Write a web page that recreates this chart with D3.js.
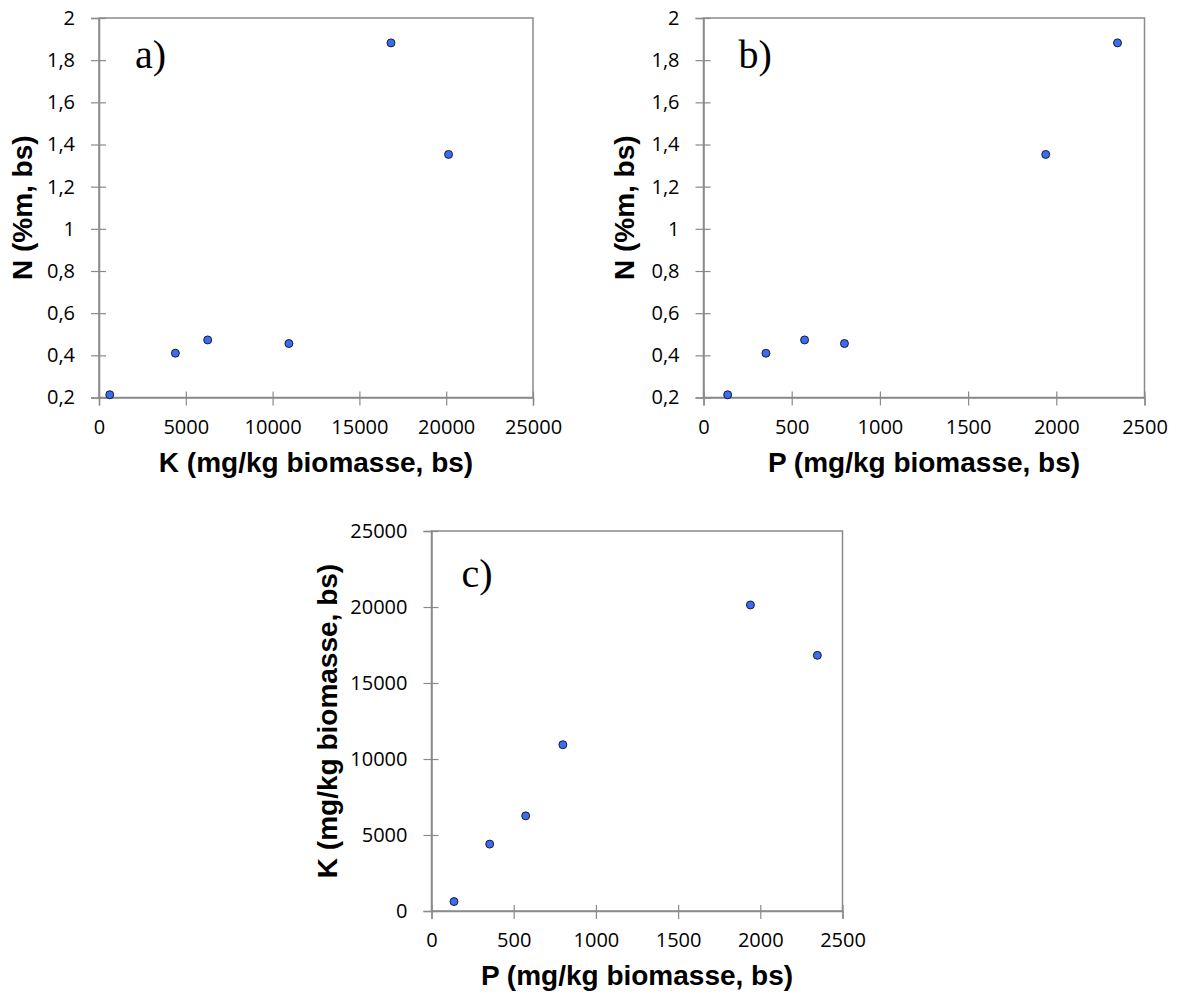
<!DOCTYPE html>
<html>
<head>
<meta charset="utf-8">
<script src="https://cdn.jsdelivr.net/npm/d3@7/dist/d3.min.js"></script>
<style>
  html, body { margin: 0; padding: 0; background: #fff; }
  svg { display: block; }
</style>
</head>
<body>
<svg id="chart" width="1178" height="997"></svg>
<script>
// ---- Data (six biomass samples) ----
const P = [137, 354, 573, 799, 1940, 2347];          // mg/kg biomasse, bs
const K = [620, 4400, 6260, 10940, 20135, 16820];    // mg/kg biomasse, bs
const N = [0.213, 0.410, 0.473, 0.456, 1.353, 1.882]; // %m, bs

const nTicks = [0.2, 0.4, 0.6, 0.8, 1, 1.2, 1.4, 1.6, 1.8, 2];
const kTicks = [0, 5000, 10000, 15000, 20000, 25000];
const pTicks = [0, 500, 1000, 1500, 2000, 2500];

const panelLetters = ["a)", "b)", "c)"];
const xTitles = ["K (mg/kg biomasse, bs)", "P (mg/kg biomasse, bs)", "P (mg/kg biomasse, bs)"];
const yTitles = ["N (%m, bs)", "N (%m, bs)", "K (mg/kg biomasse, bs)"];

// ---- Layout ----
const panels = [
  { xv: K, yv: N, xDom: [0, 25000], yDom: [0.2, 2], xt: kTicks, yt: nTicks,
    left: 99, right: 533, top: 18, bottom: 397.5, yTitleOff: 77, letterDx: 36, letterDy: 50 },
  { xv: P, yv: N, xDom: [0, 2500], yDom: [0.2, 2], xt: pTicks, yt: nTicks,
    left: 703.5, right: 1144.5, top: 18, bottom: 397.5, yTitleOff: 79, letterDx: 35, letterDy: 50 },
  { xv: P, yv: K, xDom: [0, 2500], yDom: [0, 25000], xt: pTicks, yt: kTicks,
    left: 431.5, right: 842.5, top: 531, bottom: 911, yTitleOff: 104, letterDx: 30, letterDy: 56 }
];

const GRAY = "#8a8a8a";
const fmt = d => String(+(+d).toFixed(1)).replace(".", ",");
const svg = d3.select("#chart");

panels.forEach((p, i) => {
  const x = d3.scaleLinear().domain(p.xDom).range([p.left, p.right]);
  const y = d3.scaleLinear().domain(p.yDom).range([p.bottom, p.top]);
  const g = svg.append("g");

  // plot border
  g.append("rect")
    .attr("x", p.left).attr("y", p.top)
    .attr("width", p.right - p.left).attr("height", p.bottom - p.top)
    .attr("fill", "none").attr("stroke", GRAY).attr("stroke-width", 1.5);

  // x axis
  const xa = g.append("g")
    .attr("transform", `translate(0,${p.bottom})`)
    .call(d3.axisBottom(x).tickValues(p.xt).tickSize(8).tickPadding(14).tickFormat(fmt));
  xa.select(".domain").attr("stroke", GRAY).attr("stroke-width", 1.5);
  xa.selectAll(".tick line").attr("stroke", GRAY).attr("stroke-width", 1.2).attr("y1", -6).attr("y2", 8);
  xa.selectAll(".tick text")
    .attr("font-family", "'Open Sans', 'Noto Sans', sans-serif")
    .attr("font-size", 20).attr("fill", "#000");

  // y axis
  const ya = g.append("g")
    .attr("transform", `translate(${p.left},0)`)
    .call(d3.axisLeft(y).tickValues(p.yt).tickSize(8).tickPadding(16).tickFormat(fmt));
  ya.select(".domain").attr("stroke", GRAY).attr("stroke-width", 1.5);
  ya.selectAll(".tick line").attr("stroke", GRAY).attr("stroke-width", 1.2).attr("x1", 7).attr("x2", -8);
  ya.selectAll(".tick text")
    .attr("font-family", "'Open Sans', 'Noto Sans', sans-serif")
    .attr("font-size", 20).attr("fill", "#000");

  // axis titles
  g.append("text")
    .attr("x", (p.left + p.right) / 2).attr("y", p.bottom + 74)
    .attr("text-anchor", "middle")
    .attr("font-family", "'Liberation Sans', Arial, sans-serif")
    .attr("font-weight", "bold").attr("font-size", 28)
    .text(xTitles[i]);

  g.append("text")
    .attr("transform", `translate(${p.left - p.yTitleOff},${(p.top + p.bottom) / 2}) rotate(-90)`)
    .attr("text-anchor", "middle").attr("dominant-baseline", "central")
    .attr("font-family", "'Liberation Sans', Arial, sans-serif")
    .attr("font-weight", "bold").attr("font-size", 28)
    .text(yTitles[i]);

  // panel letter
  g.append("text")
    .attr("x", p.left + p.letterDx).attr("y", p.top + p.letterDy)
    .attr("font-family", "'Liberation Serif', 'Times New Roman', serif")
    .attr("font-size", 40).attr("fill", "#000")
    .text(panelLetters[i]);

  // points
  g.selectAll("circle")
    .data(p.xv.map((v, j) => [v, p.yv[j]]))
    .join("circle")
    .attr("cx", d => x(d[0])).attr("cy", d => y(d[1]))
    .attr("r", 4)
    .attr("fill", "#3a6cf4").attr("stroke", "#111").attr("stroke-width", 0.9);
});
</script>
</body>
</html>
